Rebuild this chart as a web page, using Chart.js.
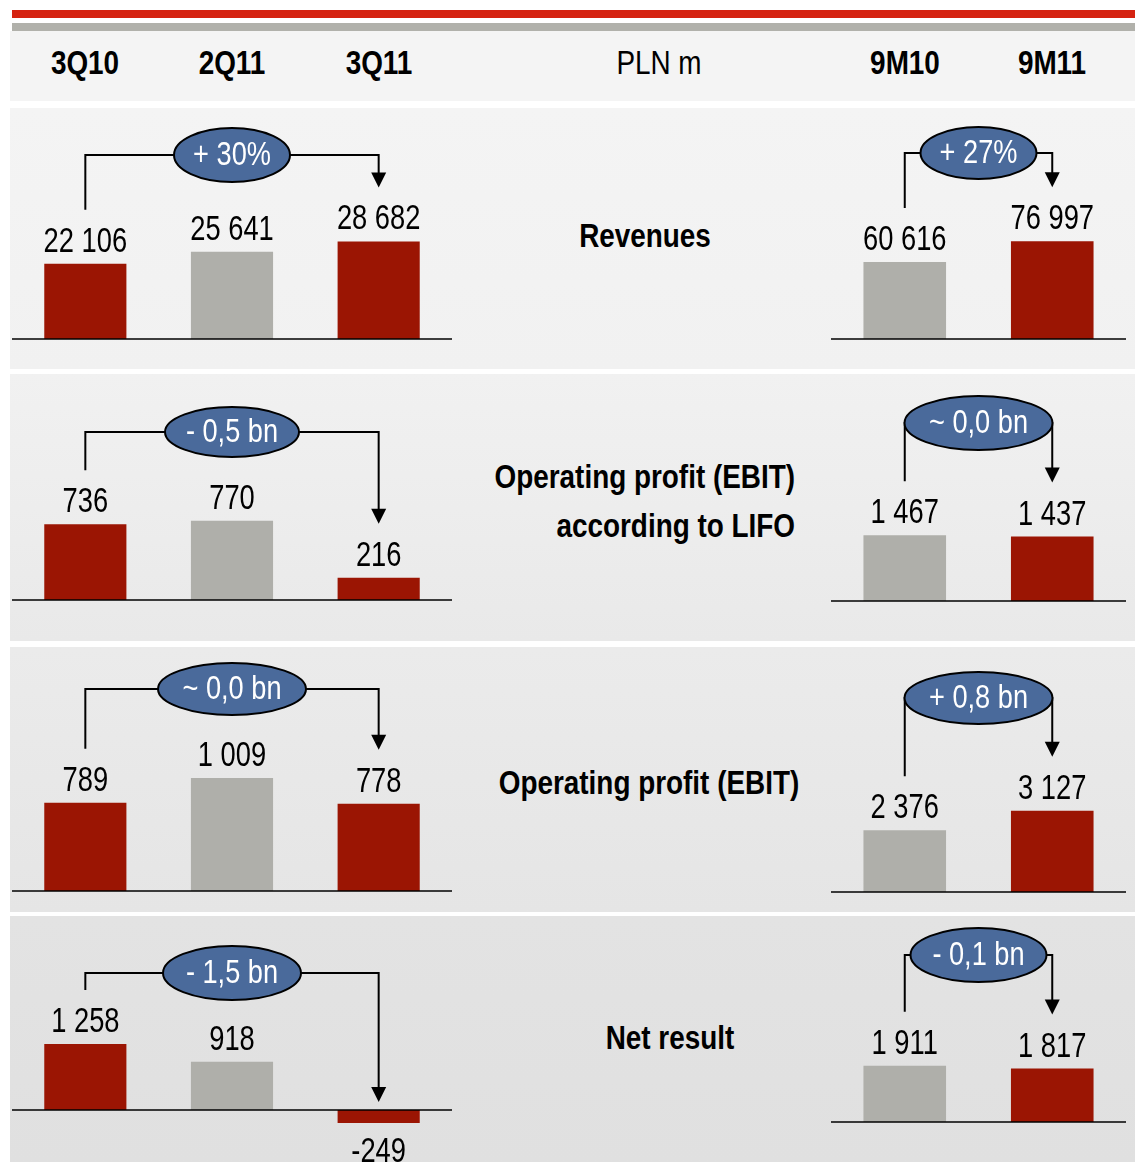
<!DOCTYPE html>
<html>
<head>
<meta charset="utf-8">
<script src="https://cdn.jsdelivr.net/npm/chart.js@4.4.1/dist/chart.umd.min.js"></script>
<style>
  body {
    margin: 0;
    width: 1135px;
    height: 1162px;
    overflow: hidden;
    position: relative;
    background: #ffffff;
    font-family: "Liberation Sans", Arial, sans-serif;
  }
  .strip { position: absolute; left: 12px; right: 0; }
  canvas { position: absolute; }
  .hdr {
    position: absolute;
    top: 43px;
    width: 160px;
    margin-left: -80px;
    text-align: center;
    font-size: 34px;
    line-height: 38px;
    font-weight: bold;
    color: #000;
    transform: scaleX(0.82);
    transform-origin: center;
  }
  .metric {
    position: absolute;
    font-size: 34px;
    font-weight: bold;
    color: #000;
    white-space: pre-line;
  }
</style>
</head>
<body>

<div class="strip" style="top:10px;height:8px;background:#d52311;"></div>
<div class="strip" style="top:23px;height:8px;background:#b1b1ab;"></div>
<div class="strip" style="left:10px;top:31px;height:70px;background:#f4f4f4;"></div>

<script>
// =========================================
// DATA
// =========================================

const quarterLabels = ["3Q10", "2Q11", "3Q11"];
const periodLabels = ["9M10", "9M11"];
const unitLabel = "PLN m";

const metricNames = [
  "Revenues",
  "Operating profit (EBIT)\naccording to LIFO",
  "Operating profit (EBIT)",
  "Net result"
];

const revenuesQ = [22106, 25641, 28682];
const revenuesP = [60616, 76997];

const ebitLifoQ = [736, 770, 216];
const ebitLifoP = [1467, 1437];

const ebitQ = [789, 1009, 778];
const ebitP = [2376, 3127];

const netResultQ = [1258, 918, -249];
const netResultP = [1911, 1817];

const changeQ = ["+ 30%", "- 0,5 bn", "~ 0,0 bn", "- 1,5 bn"];
const changeP = ["+ 27%", "~ 0,0 bn", "+ 0,8 bn", "- 0,1 bn"];


// =========================================
// STYLE / LAYOUT
// =========================================

const RED = "#9b1503";
const GREY = "#afafaa";
const OVAL = "#4a6a9b";
const FONT = '"Liberation Sans", Arial, sans-serif';

const quarterColors = [RED, GREY, RED];
const periodColors = [GREY, RED];

const leftBox = { x: 12, w: 440 };
const rightBox = { x: 831, w: 295 };

const rows = [
  { top: 108, bottom: 369, bg: ["#f4f4f4", "#f1f1f1"],
    q: { base: 339, k: 0.0034, cy: 155, rx: 58, ry: 27 },
    p: { base: 339, k: 0.00127, cy: 153, rx: 58, ry: 26 },
    title: { left: 495, width: 300, top: 216, align: "center", lh: 38 } },
  { top: 374, bottom: 641, bg: ["#f1f1f1", "#e9e9e9"],
    q: { base: 600, k: 0.103, cy: 432, rx: 67, ry: 25 },
    p: { base: 601, k: 0.0448, cy: 423, rx: 74, ry: 27 },
    title: { left: 395, width: 400, top: 452, align: "right", lh: 49 } },
  { top: 647, bottom: 912, bg: ["#ebebeb", "#e5e5e5"],
    q: { base: 891, k: 0.112, cy: 689, rx: 74, ry: 26 },
    p: { base: 892, k: 0.026, cy: 698, rx: 74, ry: 26 },
    title: { left: 449, width: 400, top: 763, align: "center", lh: 38 } },
  { top: 916, bottom: 1162, bg: ["#e3e3e3", "#e0e0e0"],
    q: { base: 1110, k: 0.0525, cy: 973, rx: 69, ry: 27 },
    p: { base: 1122, k: 0.0294, cy: 955, rx: 68, ry: 27 },
    title: { left: 520, width: 300, top: 1018, align: "center", lh: 38 } }
];

const seriesQ = [revenuesQ, ebitLifoQ, ebitQ, netResultQ];
const seriesP = [revenuesP, ebitLifoP, ebitP, netResultP];


// =========================================
// HELPERS
// =========================================

function fmt(v) {
  const s = String(Math.abs(v)).replace(/\B(?=(\d{3})+(?!\d))/g, " ");
  return v < 0 ? "-" + s : s;
}

function addDiv(cls, text, css) {
  const d = document.createElement("div");
  d.className = cls;
  d.textContent = text;
  Object.assign(d.style, css);
  document.body.appendChild(d);
  return d;
}

// condensed text (no narrow font installed)
function narrowText(ctx, text, x, y, sx) {
  ctx.save();
  ctx.translate(x, y);
  ctx.scale(sx, 1);
  ctx.fillText(text, 0, 0);
  ctx.restore();
}

// baseline, value labels, connector arrow and change oval
const bridgePlugin = {
  id: "bridge",
  afterDatasetsDraw(chart, args, opts) {
    const ctx = chart.ctx;
    const area = chart.chartArea;
    const y0 = chart.scales.y.getPixelForValue(0);
    const bars = chart.getDatasetMeta(0).data;
    const values = chart.data.datasets[0].data;

    ctx.save();

    ctx.strokeStyle = "#000";
    ctx.lineWidth = 1.5;
    ctx.beginPath();
    ctx.moveTo(area.left, y0);
    ctx.lineTo(area.right, y0);
    ctx.stroke();

    ctx.fillStyle = "#000";
    ctx.font = "35px " + FONT;
    ctx.textAlign = "center";
    ctx.textBaseline = "alphabetic";
    bars.forEach((b, i) => {
      const v = values[i];
      if (v >= 0) narrowText(ctx, fmt(v), b.x, b.y - 12, 0.78);
      else narrowText(ctx, fmt(v), b.x, b.y + 39, 0.78);
    });

    const n = bars.length - 1;
    const first = bars[0];
    const last = bars[n];
    const endOf = (b, v) => (v >= 0 ? b.y - 54 : y0 - 8);
    const tip = endOf(last, values[n]);
    const cy = opts.cy;

    ctx.lineWidth = 2;
    ctx.beginPath();
    ctx.moveTo(first.x, endOf(first, values[0]));
    ctx.lineTo(first.x, cy);
    ctx.lineTo(last.x, cy);
    ctx.lineTo(last.x, tip - 12);
    ctx.stroke();

    ctx.beginPath();
    ctx.moveTo(last.x - 7.5, tip - 15);
    ctx.lineTo(last.x + 7.5, tip - 15);
    ctx.lineTo(last.x, tip);
    ctx.closePath();
    ctx.fill();

    const cx = (first.x + last.x) / 2;
    ctx.beginPath();
    ctx.ellipse(cx, cy, opts.rx, opts.ry, 0, 0, Math.PI * 2);
    ctx.fillStyle = OVAL;
    ctx.fill();
    ctx.lineWidth = 2;
    ctx.stroke();

    ctx.fillStyle = "#fff";
    ctx.font = "34px " + FONT;
    ctx.textBaseline = "middle";
    narrowText(ctx, opts.text, cx, cy + 1, 0.8);

    ctx.restore();
  }
};

function makeChart(box, row, cfg, labels, values, colors, text) {
  const cv = document.createElement("canvas");
  const h = row.bottom - row.top;
  cv.width = box.w;
  cv.height = h;
  cv.style.left = box.x + "px";
  cv.style.top = row.top + "px";
  cv.style.width = box.w + "px";
  cv.style.height = h + "px";
  document.body.appendChild(cv);

  new Chart(cv, {
    type: "bar",
    data: {
      labels: labels,
      datasets: [{
        data: values,
        backgroundColor: colors,
        borderWidth: 0,
        barPercentage: 0.56,
        categoryPercentage: 1
      }]
    },
    options: {
      responsive: false,
      animation: false,
      events: [],
      layout: { padding: 0 },
      plugins: {
        legend: { display: false },
        tooltip: { enabled: false },
        bridge: { cy: cfg.cy - row.top, rx: cfg.rx, ry: cfg.ry, text: text }
      },
      scales: {
        x: { display: false },
        y: {
          display: false,
          min: -(row.bottom - cfg.base) / cfg.k,
          max: (cfg.base - row.top) / cfg.k
        }
      }
    },
    plugins: [bridgePlugin]
  });
}


// =========================================
// HEADER
// =========================================

quarterLabels.forEach((t, i) => {
  addDiv("hdr", t, { left: (leftBox.x + (i + 0.5) * leftBox.w / 3) + "px" });
});
periodLabels.forEach((t, i) => {
  addDiv("hdr", t, { left: (rightBox.x + (i + 0.5) * rightBox.w / 2) + "px" });
});
addDiv("hdr", unitLabel, { left: "659px", fontWeight: "normal" });


// =========================================
// PANELS
// =========================================

rows.forEach((row, r) => {
  const bg = document.createElement("div");
  bg.className = "strip";
  Object.assign(bg.style, {
    left: "10px",
    top: row.top + "px",
    height: (row.bottom - row.top) + "px",
    background: "linear-gradient(" + row.bg[0] + "," + row.bg[1] + ")"
  });
  document.body.appendChild(bg);

  const t = row.title;
  addDiv("metric", metricNames[r], {
    left: t.left + "px",
    width: t.width + "px",
    top: t.top + "px",
    textAlign: t.align,
    lineHeight: t.lh + "px",
    transform: "scaleX(0.82)",
    transformOrigin: t.align === "right" ? "right center" : "center"
  });

  makeChart(leftBox, row, row.q, quarterLabels, seriesQ[r], quarterColors, changeQ[r]);
  makeChart(rightBox, row, row.p, periodLabels, seriesP[r], periodColors, changeP[r]);
});
</script>
</body>
</html>
